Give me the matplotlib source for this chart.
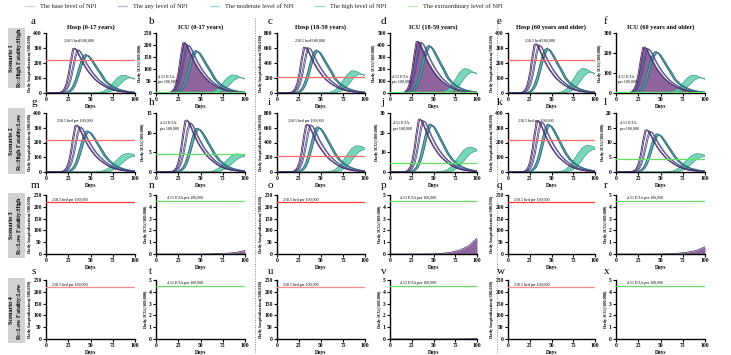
import matplotlib
matplotlib.use("Agg")
import matplotlib.pyplot as plt
import numpy as np
from matplotlib.lines import Line2D
from matplotlib.patches import Rectangle

plt.rcParams['font.family'] = ['Liberation Serif', 'DejaVu Serif']

# ---------------- data ----------------
LEGEND_LABELS = ["The base level of NPI", "The any level of NPI", "The moderate level of NPI",
                 "The high level of NPI", "The extraordinary level of NPI"]
AGE_TITLES = ["Hosp (0-17 years)", "ICU (0-17 years)", "Hosp (18-59 years)",
              "ICU (18-59 years)", "Hosp (60 years and older)", "ICU (60 years and older)"]
ROW_LABELS = ["Scenario 1\nR$_0$:High Fatality:High", "Scenario 2\nR$_0$:High Fatality:Low",
              "Scenario 3\nR$_0$:Low Fatality:High", "Scenario 4\nR$_0$:Low Fatality:Low"]
LETTERS = "abcdefghijklmnopqrstuvwx"
HOSP_CAP = 218.5
ICU_CAP = 4.51

DAYS = [0, 10, 15, 17.5, 20, 22.5, 25, 27.5, 30, 32.5, 35, 37.5, 40, 42.5, 45, 47.5,
        50, 52.5, 55, 57.5, 60, 65, 70, 75, 80, 85, 90, 95, 100]

# Scenario 1 normalised curve shapes (peak = 1)
S1_BASE = [0, 0, 0.01, 0.03, 0.08, 0.2, 0.42, 0.72, 0.97, 0.98, 0.9, 0.8, 0.7, 0.61, 0.53, 0.46,
           0.4, 0.34, 0.29, 0.25, 0.21, 0.15, 0.1, 0.065, 0.04, 0.025, 0.015, 0.01, 0.006]
S1_ANY = [0, 0, 0.004, 0.012, 0.03, 0.08, 0.18, 0.36, 0.6, 0.85, 0.99, 0.97, 0.88, 0.78, 0.68, 0.6,
          0.52, 0.45, 0.39, 0.33, 0.28, 0.2, 0.14, 0.09, 0.06, 0.038, 0.024, 0.015, 0.01]
S1_MOD = [0, 0, 0, 0.002, 0.006, 0.015, 0.04, 0.09, 0.18, 0.32, 0.5, 0.7, 0.87, 0.97, 1.0, 0.95,
          0.87, 0.78, 0.69, 0.6, 0.52, 0.33, 0.22, 0.15, 0.1, 0.065, 0.042, 0.027, 0.017]
S1_HIGH = [0, 0, 0, 0, 0, 0, 0, 0, 0, 0, 0, 0, 0, 0, 0, 0,
           0.002, 0.005, 0.01, 0.02, 0.035, 0.1, 0.27, 0.55, 0.83, 0.99, 0.97, 0.86, 0.76]
# Scenario 2 normalised curve shapes
S2_BASE = [0, 0, 0.004, 0.01, 0.03, 0.08, 0.2, 0.42, 0.72, 0.97, 0.98, 0.9, 0.8, 0.7, 0.61, 0.53,
           0.46, 0.4, 0.34, 0.29, 0.25, 0.18, 0.12, 0.08, 0.05, 0.032, 0.02, 0.013, 0.008]
S2_ANY = [0, 0, 0.002, 0.004, 0.012, 0.03, 0.08, 0.18, 0.36, 0.6, 0.85, 0.99, 0.97, 0.88, 0.78, 0.68,
          0.6, 0.52, 0.45, 0.39, 0.33, 0.24, 0.17, 0.11, 0.075, 0.05, 0.032, 0.02, 0.013]
S2_MOD = [0, 0, 0, 0.001, 0.003, 0.008, 0.02, 0.05, 0.1, 0.2, 0.35, 0.54, 0.74, 0.9, 0.99, 0.99,
          0.93, 0.85, 0.76, 0.67, 0.58, 0.4, 0.27, 0.18, 0.12, 0.08, 0.052, 0.034, 0.022]
S2_HIGH = [0, 0, 0, 0, 0, 0, 0, 0, 0, 0, 0, 0, 0, 0, 0, 0,
           0.001, 0.003, 0.006, 0.012, 0.022, 0.07, 0.2, 0.42, 0.68, 0.9, 1.0, 0.99, 0.92]

# peak heights per panel: [base, any, moderate, high]
PEAKS_S1 = [[305, 292, 258, 120], [215, 203, 178, 76], [625, 612, 575, 300],
            [440, 428, 398, 205], [335, 325, 300, 165], [235, 225, 208, 90]]
PEAKS_S2 = [[325, 310, 280, 125], [13.5, 12.7, 11.2, 4.6], [660, 648, 615, 355],
            [27.5, 26.5, 24.5, 12.5], [355, 345, 325, 180], [14.6, 14.0, 13.0, 6.2]]

# late growth of ICU demand (scenarios 3 and 4)
GROW_DAYS = [0, 40, 50, 60, 70, 80, 90, 100]
S3_ICU = [[0, 0, 0.005, 0.015, 0.035, 0.07, 0.14, 0.3],
          [0, 0.005, 0.02, 0.06, 0.15, 0.33, 0.68, 1.35],
          [0, 0, 0.01, 0.03, 0.07, 0.15, 0.3, 0.62]]
S4_ICU = [[0, 0, 0, 0, 0, 0, 0, 0],
          [0, 0, 0, 0, 0.005, 0.01, 0.02, 0.04],
          [0, 0, 0, 0, 0, 0, 0, 0]]

YMAX = [[400, 250, 800, 500, 400, 300],
        [400, 15, 800, 30, 400, 20],
        [250, 5, 250, 5, 250, 5],
        [250, 5, 250, 5, 250, 5]]
YSTEP = [[100, 50, 200, 100, 100, 100],
         [100, 5, 200, 10, 100, 5],
         [50, 1, 50, 1, 50, 1],
         [50, 1, 50, 1, 50, 1]]

# ---------------- styling ----------------
W, H = 731, 355
fig = plt.figure(figsize=(W / 100, H / 100), dpi=100)

COL_X = [(46, 135), (156, 245), (277, 365), (390, 477), (508, 595), (616, 705)]
ROW_Y = [(33, 93), (113, 172), (195, 254), (280, 339)]

C_BASE = '#4a2a68'
C_ANY = '#4b4f8c'
C_MOD_E = '#2e6f7c'
C_MOD_F = '#5ea4aa'
C_HIGH_E = '#34a084'
C_HIGH_F = '#62cfae'
C_EXT = '#8fe08f'
C_ICUFILL = '#7a4a8c'
RED = '#ff6b6b'
GREEN = '#5fe35f'
LEG_COLORS = ['#d6d6e0', '#bdb6dc', '#a9d6df', '#9fdecb', '#c6ecbc']


def band(ax, y, dx, s2, edge, fill, lw, alpha, z):
    x = np.asarray(DAYS, float)
    y = np.asarray(y, float)
    x2 = x + dx
    y2 = y * s2
    ax.fill(np.concatenate([x, x2[::-1]]), np.concatenate([y, y2[::-1]]),
            color=fill, alpha=alpha, lw=0, zorder=z)
    ax.plot(x, y, color=edge, lw=lw, zorder=z + 0.1)
    ax.plot(x2, y2, color=edge, lw=lw, zorder=z + 0.1)


def setup(ax, r, c):
    ymax = YMAX[r][c]
    ax.set_xlim(0, 100)
    ax.set_ylim(0, ymax)
    ax.set_xticks([0, 25, 50, 75, 100])
    ax.set_yticks(np.arange(0, ymax + 1e-9, YSTEP[r][c]))
    for s in ['top', 'right']:
        ax.spines[s].set_visible(False)
    for s in ['left', 'bottom']:
        ax.spines[s].set_linewidth(1.0)
    ax.tick_params(length=2, width=0.8, pad=1, labelsize=4)
    for lab in ax.get_xticklabels() + ax.get_yticklabels():
        lab.set_fontweight('bold')
    ax.set_xlabel('Days', fontsize=4, fontweight='bold', labelpad=1)
    if c % 2 == 0:
        ax.set_ylabel('Daily hospitalization(/100,000)', fontsize=3.2, fontweight='bold', labelpad=1)
    else:
        ax.set_ylabel('Daily ICU(/100,000)', fontsize=3.2, fontweight='bold', labelpad=1)
    if r == 0:
        ax.set_title(AGE_TITLES[c], fontsize=4.6, fontweight='bold', pad=3)


axes = []
for r in range(4):
    for c in range(6):
        x0, x1 = COL_X[c]
        y0, y1 = ROW_Y[r]
        ax = fig.add_axes([x0 / W, 1 - y1 / H, (x1 - x0) / W, (y1 - y0) / H])
        setup(ax, r, c)
        axes.append(ax)
        icu = (c % 2 == 1)
        ymax = YMAX[r][c]
        if r < 2:
            shapes = [S1_BASE, S1_ANY, S1_MOD, S1_HIGH] if r == 0 else [S2_BASE, S2_ANY, S2_MOD, S2_HIGH]
            pk = PEAKS_S1[c] if r == 0 else PEAKS_S2[c]
            yb = np.asarray(shapes[0]) * pk[0]
            ya = np.asarray(shapes[1]) * pk[1]
            ym = np.asarray(shapes[2]) * pk[2]
            yh = np.asarray(shapes[3]) * pk[3]
            if icu and r == 0:
                ax.fill_between(DAYS, 0, yb, color=C_ICUFILL, alpha=0.85, lw=0, zorder=1)
            band(ax, yh, 8, 0.85, C_HIGH_E, C_HIGH_F, 0.5, 0.85, 2)
            band(ax, ym, 2.5, 0.97, C_MOD_E, C_MOD_F, 0.7, 0.9, 3)
            band(ax, ya, 1.3, 0.98, C_ANY, 'white', 0.6, 0.0, 4)
            band(ax, yb, 1.3, 0.98, C_BASE, 'white', 0.6, 0.0, 5)
            ax.plot([0, 100], [0, 0], color=C_EXT, lw=0.8, zorder=1.5)
        else:
            if icu:
                g = (S3_ICU if r == 2 else S4_ICU)[c // 2]
                ax.fill_between(GROW_DAYS, 0, g, color=C_ICUFILL, alpha=0.85, lw=0, zorder=1)
                ax.plot(GROW_DAYS, g, color=C_BASE, lw=0.5, zorder=2)
        # capacity lines and labels
        if not icu:
            col = RED if r != 2 else '#ff3a3a'
            if r == 3:
                col = '#ff8a8a'
            ax.axhline(HOSP_CAP, color=col, lw=0.9, zorder=6)
            if r == 0:
                ax.text(20, 0.86 * ymax, '218.5 bed/100,000', fontsize=2.9, va='center', ha='left')
            elif r == 1:
                ax.text(12, 0.86 * ymax, '218.5 bed per 100,000', fontsize=2.9, va='center', ha='left')
            else:
                ax.text(7, 222, '218.5 bed per 100,000', fontsize=2.9, va='bottom', ha='left')
        else:
            ax.axhline(ICU_CAP, color=GREEN, lw=0.9, zorder=6)
            if r == 0:
                ax.text(2, 0.22 * ymax, '4.51 ICUs\nper 100,000', fontsize=2.9, va='center', ha='left',
                        linespacing=1.4, zorder=7)
            elif r == 1:
                ax.text(4, 0.78 * ymax, '4.51 ICUs\nper 100,000', fontsize=2.9, va='center', ha='left',
                        linespacing=1.4, zorder=7)
            else:
                ax.text(12, 4.6, '4.51 ICUs per 100,000', fontsize=2.9, va='bottom', ha='left')

# panel letters
LETTER_X = [31, 149, 268, 381, 497, 604]
LETTER_Y = [22, 102, 186, 271]
k = 0
for r in range(4):
    for c in range(6):
        fig.text(LETTER_X[c] / W, 1 - LETTER_Y[r] / H, LETTERS[k], fontsize=8, va='center', ha='left')
        k += 1

# row label boxes
BOX_Y = [(28, 88), (108, 174), (193, 258), (278, 343)]
for r in range(4):
    y0, y1 = BOX_Y[r]
    fig.patches.append(Rectangle((8 / W, 1 - y1 / H), 17 / W, (y1 - y0) / H,
                                 transform=fig.transFigure, facecolor='#d2d2d2', edgecolor='none'))
    fig.text(16.5 / W, 1 - (y0 + y1) / 2 / H, ROW_LABELS[r], rotation=90, fontsize=4.4,
             fontweight='bold', ha='center', va='center', linespacing=1.3)

# dotted separators
for xs in [255, 497]:
    fig.add_artist(Line2D([xs / W, xs / W], [1 - 18 / H, 1 - 352 / H], transform=fig.transFigure,
                          color='#888888', lw=0.7, ls=(0, (1, 1.5))))

# legend
LEG_LINE_X = [25, 118, 210, 315, 408]
for i, lab in enumerate(LEGEND_LABELS):
    x0 = LEG_LINE_X[i]
    fig.add_artist(Line2D([x0 / W, (x0 + 9) / W], [1 - 6 / H, 1 - 6 / H], transform=fig.transFigure,
                          color=LEG_COLORS[i], lw=1.0))
    fig.text((x0 + 15) / W, 1 - 6 / H, lab, fontsize=4.6, va='center', ha='left', color='#222222')

fig.savefig('out.png', dpi=100)
